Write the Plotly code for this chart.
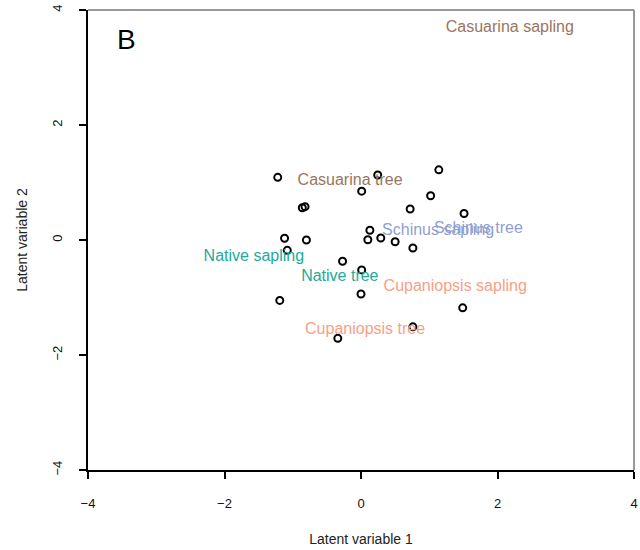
import plotly.graph_objects as go

# Site scores (open circles)
site_x = [-1.22, 0.245, 1.14, 0.01, 1.02, -0.86, -0.82, 0.72, 1.51, 0.13,
          -1.12, -0.80, 0.10, 0.29, 0.50, 0.76, -1.08, -0.27, 0.01, 0.0,
          -1.19, 1.49, 0.76, -0.34]
site_y = [1.09, 1.13, 1.22, 0.85, 0.77, 0.56, 0.58, 0.54, 0.46, 0.17,
          0.03, 0.0, 0.005, 0.035, -0.03, -0.14, -0.18, -0.37, -0.52, -0.94,
          -1.05, -1.18, -1.51, -1.71]

# Group labels
label_names = ["Casuarina sapling", "Casuarina tree", "Schinus sapling", "Schinus tree",
               "Native sapling", "Native tree", "Cupaniopsis sapling", "Cupaniopsis tree"]
label_x = [2.18, -0.16, 1.13, 1.72, -1.57, -0.31, 1.38, 0.06]
label_y = [3.68, 1.02, 0.16, 0.19, -0.30, -0.65, -0.82, -1.56]

tick_vals = [-4, -2, 0, 2, 4]

group_colors = {"Casuarina": "#987660", "Schinus": "#8F9FD0",
                "Native": "#22AA9A", "Cupaniopsis": "#F9A086"}
label_colors = [group_colors[n.split()[0]] for n in label_names]

FONT = "Liberation Sans, Arial, sans-serif"

fig = go.Figure()
fig.add_trace(go.Scatter(
    x=site_x, y=site_y, mode="markers",
    marker=dict(symbol="circle-open", size=7, color="black", line=dict(width=2, color="black")),
    showlegend=False, hoverinfo="skip"))
fig.add_trace(go.Scatter(
    x=label_x, y=label_y, mode="text", text=label_names,
    textposition="middle center",
    textfont=dict(family=FONT, size=16, color=label_colors),
    showlegend=False, hoverinfo="skip"))

fig.add_annotation(x=0.07, y=0.935, xref="paper", yref="paper", text="B", showarrow=False,
                   font=dict(family=FONT, size=28, color="black"), xanchor="center", yanchor="middle")

# top and right frame lines (lighter)
fig.add_shape(type="line", xref="paper", yref="paper", x0=0, x1=1, y0=1, y1=1,
              line=dict(color="#777777", width=1.5))
fig.add_shape(type="line", xref="paper", yref="paper", x0=1, x1=1, y0=0, y1=1,
              line=dict(color="#777777", width=1.5))

axis_common = dict(range=[-4, 4], tickvals=tick_vals, ticks="outside", ticklen=7,
                   tickwidth=1.5, tickcolor="black", showline=True, linecolor="black",
                   linewidth=2, showgrid=False, zeroline=False, automargin=False,
                   tickfont=dict(family=FONT, size=13, color="#111111"))

fig.update_layout(
    width=640, height=550,
    margin=dict(l=88, r=6, t=10, b=80),
    plot_bgcolor="white", paper_bgcolor="white",
    xaxis=dict(**axis_common, title=dict(text="Latent variable 1", standoff=25,
                                         font=dict(family=FONT, size=14, color="#222222")),
               ticklabelstandoff=13),
    yaxis=dict(**axis_common, tickangle=-90,
               title=dict(text="Latent variable 2", standoff=19,
                          font=dict(family=FONT, size=14, color="#222222")),
               ticklabelstandoff=12),
)

fig.write_html("out.html", config={"displayModeBar": False},
               post_script="document.body.style.margin='0';")
